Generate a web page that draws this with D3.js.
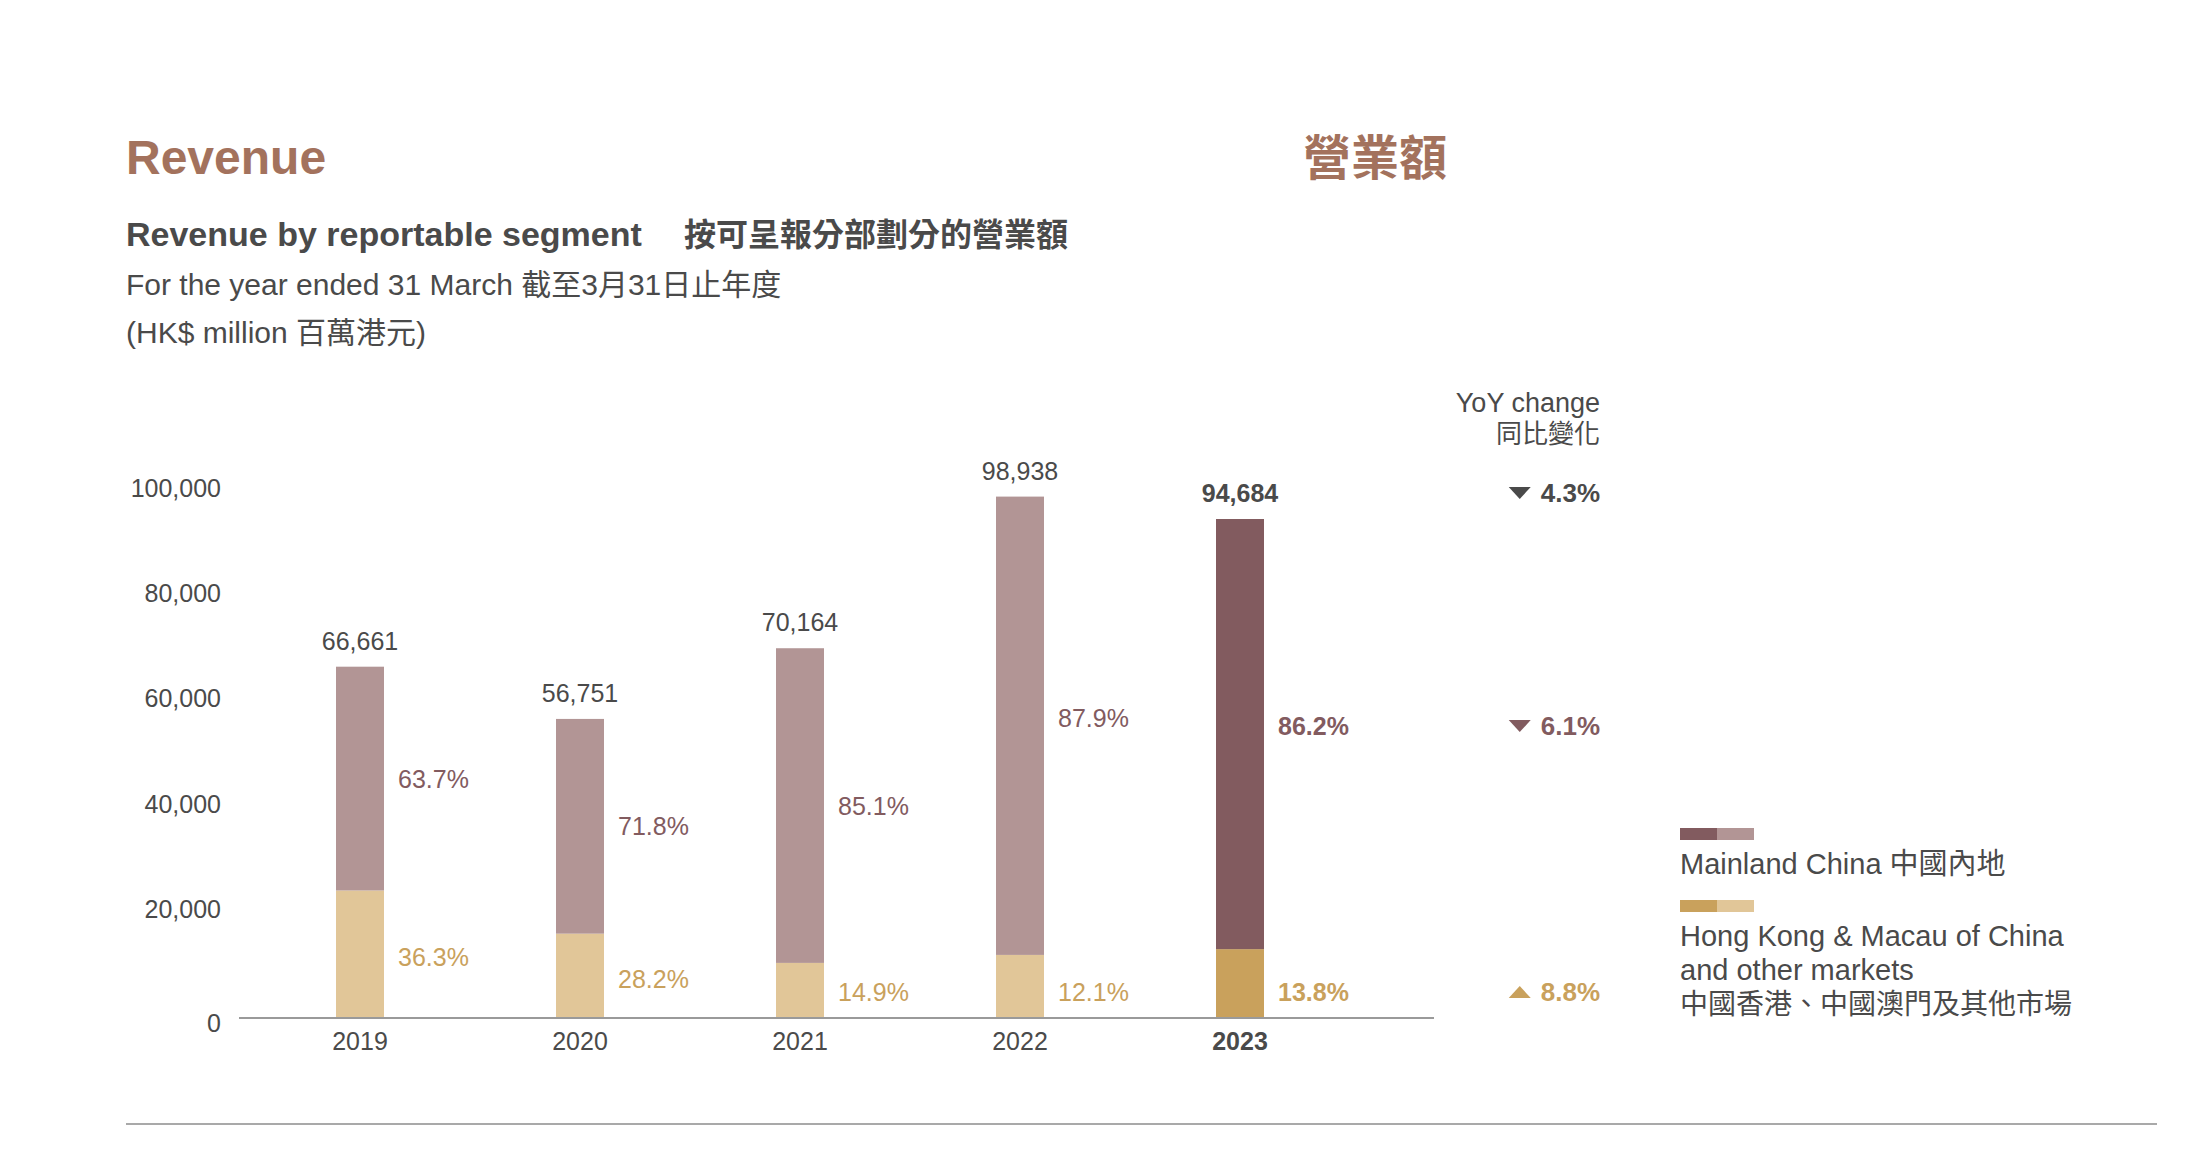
<!DOCTYPE html>
<html>
<head>
<meta charset="utf-8">
<script src="https://cdn.jsdelivr.net/npm/d3@7"></script>
<style>
  body { margin: 0; background: #fff; }
  text { font-family: "Liberation Sans", Arial, "Noto Sans CJK TC", sans-serif; }
</style>
</head>
<body>
<div class="canvas"></div>
<script>
// data
const years = ['2019', '2020', '2021', '2022', '2023'];
const totals = [66661, 56751, 70164, 98938, 94684];
const mainland = [42463, 40747, 59710, 86967, 81618];
const hkMacau = [24198, 16004, 10454, 11971, 13066];
const mainlandPct = [63.7, 71.8, 85.1, 87.9, 86.2];
const hkMacauPct = [36.3, 28.2, 14.9, 12.1, 13.8];
const yoyKeys = ['total', 'mainland', 'hkMacau'];
const yoyValues = [-4.3, -6.1, 8.8];
const yTicks = [0, 20000, 40000, 60000, 80000, 100000];

const width = 2204, height = 1153;
const brown = '#a3725d';
const textGrey = '#4a4a4a';
const mlLight = '#b29595', mlDark = '#825b5f';
const hkLight = '#e1c698', hkDark = '#c9a15c';

const svg = d3.select('.canvas')
  .append('svg')
  .attr('width', width)
  .attr('height', height);

// headings
svg.append('text')
  .attr('x', 126).attr('y', 174)
  .attr('font-size', 48).attr('font-weight', 'bold')
  .attr('fill', brown)
  .text('Revenue');

svg.append('text')
  .attr('x', 1303).attr('y', 175)
  .attr('font-size', 48).attr('font-weight', 'bold')
  .attr('font-family', '"Noto Sans CJK TC", sans-serif')
  .attr('fill', brown)
  .text('營業額');

const sub = svg.append('text')
  .attr('x', 126).attr('y', 246)
  .attr('font-size', 34).attr('font-weight', 'bold')
  .attr('fill', textGrey);
sub.append('tspan').text('Revenue by reportable segment');
sub.append('tspan').attr('x', 684)
  .attr('font-size', 32)
  .attr('font-family', '"Noto Sans CJK TC", sans-serif')
  .text('按可呈報分部劃分的營業額');

svg.append('text')
  .attr('x', 126).attr('y', 295)
  .attr('font-size', 30)
  .attr('fill', textGrey)
  .text('For the year ended 31 March 截至3月31日止年度');

svg.append('text')
  .attr('x', 126).attr('y', 343)
  .attr('font-size', 30)
  .attr('fill', textGrey)
  .text('(HK$ million 百萬港元)');

// scales
const x = d3.scaleBand()
  .domain(years)
  .range([250, 1350]);

const y = d3.scaleLinear()
  .domain([0, 100000])
  .range([1018, 491]);

const barW = 48;
const cx = d => x(d) + x.bandwidth() / 2;

// y axis
const yAxis = d3.axisLeft(y)
  .tickValues(yTicks)
  .tickFormat(d3.format(','))
  .tickSize(0)
  .tickPadding(0);

const yAxisGroup = svg.append('g')
  .attr('transform', 'translate(221, 0)')
  .call(yAxis);
yAxisGroup.select('.domain').remove();
yAxisGroup.selectAll('text')
  .attr('font-size', 25)
  .attr('fill', textGrey)
  .attr('font-family', '"Liberation Sans", Arial, sans-serif')
  .attr('dy', d => d === 0 ? '0.55em' : '0.2em');

// bars
const rows = years.map((yr, i) => ({
  year: yr, total: totals[i], ml: mainland[i], hk: hkMacau[i],
  mlPct: mainlandPct[i], hkPct: hkMacauPct[i], last: i === years.length - 1
}));

const bars = svg.append('g');
bars.selectAll('rect.hk')
  .data(rows)
  .enter().append('rect')
  .attr('class', 'hk')
  .attr('x', d => cx(d.year) - barW / 2)
  .attr('width', barW)
  .attr('y', d => y(d.hk))
  .attr('height', d => y(0) - y(d.hk))
  .attr('fill', d => d.last ? hkDark : hkLight);

bars.selectAll('rect.ml')
  .data(rows)
  .enter().append('rect')
  .attr('class', 'ml')
  .attr('x', d => cx(d.year) - barW / 2)
  .attr('width', barW)
  .attr('y', d => y(d.hk + d.ml))
  .attr('height', d => y(d.hk) - y(d.hk + d.ml))
  .attr('fill', d => d.last ? mlDark : mlLight);

// baseline
svg.append('line')
  .attr('x1', 239).attr('x2', 1434)
  .attr('y1', y(0)).attr('y2', y(0))
  .attr('stroke', '#9a9a9a').attr('stroke-width', 2);

// x axis labels
const xAxis = d3.axisBottom(x).tickSize(0).tickPadding(14);
const xAxisGroup = svg.append('g')
  .attr('transform', `translate(0, ${y(0)})`)
  .call(xAxis);
xAxisGroup.select('.domain').remove();
xAxisGroup.selectAll('text')
  .attr('font-size', 25)
  .attr('fill', textGrey)
  .attr('font-family', '"Liberation Sans", Arial, sans-serif')
  .attr('font-weight', d => d === '2023' ? 'bold' : 'normal');

// totals
const fmt = d3.format(',');
svg.append('g').selectAll('text')
  .data(rows)
  .enter().append('text')
  .attr('x', d => cx(d.year))
  .attr('y', d => y(d.total) - 17)
  .attr('text-anchor', 'middle')
  .attr('font-size', 25)
  .attr('font-weight', d => d.last ? 'bold' : 'normal')
  .attr('fill', textGrey)
  .text(d => fmt(d.total));

// percentage labels (small segments get a label just above the baseline)
const mlLabelY = d => y(d.hk + d.ml / 2) - (d.ml > 80000 ? 8 : 0);
const hkLabelY = d => d.hk < 15000 ? y(0) - 26 : y(d.hk / 2) + 3;

svg.append('g').selectAll('text')
  .data(rows)
  .enter().append('text')
  .attr('x', d => cx(d.year) + barW / 2 + 14)
  .attr('y', mlLabelY)
  .attr('dy', '0.36em')
  .attr('font-size', 25)
  .attr('font-weight', d => d.last ? 'bold' : 'normal')
  .attr('fill', mlDark)
  .text(d => d.mlPct.toFixed(1) + '%');

svg.append('g').selectAll('text')
  .data(rows)
  .enter().append('text')
  .attr('x', d => cx(d.year) + barW / 2 + 14)
  .attr('y', hkLabelY)
  .attr('dy', '0.36em')
  .attr('font-size', 25)
  .attr('font-weight', d => d.last ? 'bold' : 'normal')
  .attr('fill', hkDark)
  .text(d => d.hkPct.toFixed(1) + '%');

// YoY column
const yoyRight = 1600;
svg.append('text')
  .attr('x', yoyRight).attr('y', 412)
  .attr('text-anchor', 'end')
  .attr('font-size', 27).attr('fill', textGrey)
  .text('YoY change');
svg.append('text')
  .attr('x', yoyRight).attr('y', 443)
  .attr('text-anchor', 'end')
  .attr('font-size', 26).attr('fill', textGrey)
  .attr('font-family', '"Noto Sans CJK TC", sans-serif')
  .text('同比變化');

const last = rows[rows.length - 1];
const yoyY = {
  total: y(last.total) - 17 - 9,
  mainland: mlLabelY(last),
  hkMacau: hkLabelY(last)
};
const yoyColor = { total: textGrey, mainland: mlDark, hkMacau: hkDark };

yoyKeys.forEach((k, i) => {
  const v = yoyValues[i];
  const g = svg.append('g').attr('transform', `translate(0, ${yoyY[k]})`);
  const t = g.append('text')
    .attr('x', yoyRight).attr('dy', '0.36em')
    .attr('text-anchor', 'end')
    .attr('font-size', 26).attr('font-weight', 'bold')
    .attr('fill', yoyColor[k])
    .text(Math.abs(v).toFixed(1) + '%');
  const tw = t.node().getComputedTextLength();
  const tx = yoyRight - tw - 10;
  const tri = v < 0
    ? `M${tx - 22},-6 L${tx},-6 L${tx - 11},6 Z`
    : `M${tx - 22},6 L${tx},6 L${tx - 11},-6 Z`;
  g.append('path').attr('d', tri).attr('fill', yoyColor[k]);
});

// legend
const legend = [
  { dark: mlDark, light: mlLight, y: 828, lines: ['Mainland China 中國內地'] },
  { dark: hkDark, light: hkLight, y: 900, lines: ['Hong Kong & Macau of China', 'and other markets', '中國香港、中國澳門及其他市場'] }
];
legend.forEach(l => {
  svg.append('rect').attr('x', 1680).attr('y', l.y).attr('width', 37).attr('height', 12).attr('fill', l.dark);
  svg.append('rect').attr('x', 1717).attr('y', l.y).attr('width', 37).attr('height', 12).attr('fill', l.light);
  l.lines.forEach((s, j) => {
    svg.append('text')
      .attr('x', 1680).attr('y', l.y + 46 + j * 34)
      .attr('font-size', j === 2 ? 28 : 29).attr('fill', textGrey)
      .text(s);
  });
});

// bottom rule
svg.append('line')
  .attr('x1', 126).attr('x2', 2157)
  .attr('y1', 1124).attr('y2', 1124)
  .attr('stroke', '#8c8c8c').attr('stroke-width', 1.5);
</script>
</body>
</html>
